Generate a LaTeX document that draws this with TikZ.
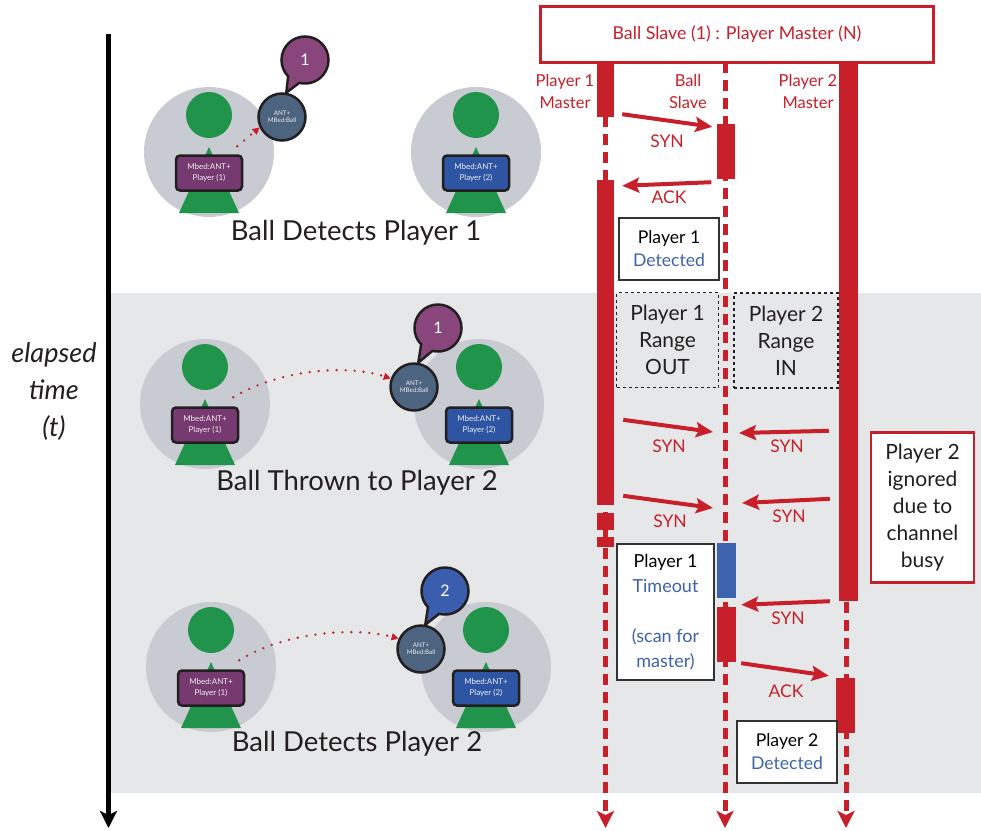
\documentclass[tikz,border=0pt]{standalone}
\usepackage{fontspec}
\setmainfont{Lato}
\usetikzlibrary{arrows.meta,calc,shapes.callouts}

\definecolor{seqred}{HTML}{C8202A}
\definecolor{seqblue}{HTML}{3D63AE}
\definecolor{bandgray}{HTML}{E6E7E8}
\definecolor{discgray}{HTML}{C9CBD3}
\definecolor{figgreen}{HTML}{1F944A}
\definecolor{chippurple}{HTML}{763A70}
\definecolor{chipblue}{HTML}{2D55A3}
\definecolor{ballslate}{HTML}{4D6480}
\definecolor{bubblepurple}{HTML}{89467D}
\definecolor{bubbleblue}{HTML}{3A5DAE}
\definecolor{outline}{HTML}{231F20}
\definecolor{boxline}{HTML}{333333}

\tikzset{
  disc/.style={circle, fill=discgray, minimum size=130pt, inner sep=0pt},
  headdisc/.style={circle, fill=figgreen, minimum size=46pt, inner sep=0pt},
  chip/.style={rounded corners=4pt, draw=outline, line width=2.5pt, minimum width=66pt,
    minimum height=35pt, inner sep=0pt, align=center, text=white!88!gray,
    font=\fontsize{8}{11}\selectfont},
  ball/.style={circle, fill=ballslate, draw=outline, line width=2.5pt, minimum size=47pt,
    inner sep=0pt, align=center, text=white!85!gray, font=\fontsize{6.3}{7.5}\selectfont},
  bubble/.style={ellipse callout, draw=outline, line width=2.5pt, minimum width=47pt,
    minimum height=47pt, inner sep=0pt, callout pointer arc=32, text=white,
    font=\fontsize{16}{16}\selectfont},
  throw/.style={seqred, line width=2.6pt, dash pattern=on 0pt off 9pt, line cap=round,
    -{Triangle[length=7pt,width=7pt,line cap=butt]}},
  caption/.style={text=outline, font=\fontsize{27.5}{28}\selectfont},
  seqtxt/.style={text=seqred, align=center, font=\fontsize{16.5}{22}\selectfont},
  msgtxt/.style={text=seqred, font=\fontsize{17.5}{18}\selectfont},
  bar/.style={fill=seqred, draw=none, inner sep=0pt, minimum width=17pt},
  msg/.style={seqred, line width=4pt, -{Stealth[length=17pt,width=15pt,inset=3pt]}},
  lifeline/.style={seqred, line width=5pt, dash pattern=on 11pt off 7pt,
    -{Stealth[length=17pt,width=17pt,inset=4pt]}},
  notebox/.style={draw=boxline, line width=1.8pt, fill=white, inner sep=0pt, align=center},
  rangebox/.style={draw=outline, line width=1.6pt, dash pattern=on 3pt off 3pt, inner sep=0pt,
    align=center, minimum width=102pt, minimum height=95pt, text=outline,
    font=\fontsize{21}{27}\selectfont}
}

% one player: grey disc, green figure and the Mbed chip on its chest
\newcommand\playerfig[5]{%
  \node[disc] (#1) at (#2,#3+37) {};
  \fill[figgreen] (#2,#3+32) -- (#2+30,#3+98) -- (#2-30,#3+98) -- cycle;
  \node[headdisc] (#1-head) at (#2,#3) {};
  \node[chip, fill=#4] (#1-chip) at (#2,#3+58) {Mbed:ANT+\\Player (#5)};
}

\begin{document}
\begin{tikzpicture}[x=1pt,y=-1pt]
\useasboundingbox (0,0) rectangle (981,830);

% grey band for the middle of the timeline
\fill[bandgray] (111,293) rectangle (981,793);

% time axis
\coordinate (ttop) at (108.5,34);
\coordinate (tend) at (108.5,828);
\draw[line width=5pt, -{Stealth[length=17pt,width=17pt,inset=4pt]}] (ttop) -- (tend);
\node[align=center, text=outline, font=\itshape\fontsize{27}{37}\selectfont] (tlabel) at (54,392)
  {elapsed\\time\\(t)};

% ---------- row 1: ball detects player 1 ----------
\playerfig{a1}{209}{115}{chippurple}{1}
\playerfig{a2}{476}{115}{chipblue}{2}
\node[ball] (r1ball) at (282,117) {ANT+\\MBed:Ball};
\node[bubble, fill=bubblepurple, callout absolute pointer={(r1ball.80)}] (r1bubble) at (305,60) {1};
\draw[throw] ($(a1-chip.north east)+(-6,-8)$) -- (r1ball.205);
\node[caption] (cap1) at (356,233) {Ball Detects Player 1};

% ---------- row 2: ball thrown to player 2 ----------
\playerfig{b1}{205}{367}{chippurple}{1}
\playerfig{b2}{479}{367}{chipblue}{2}
\node[ball] (r2ball) at (414,387) {ANT+\\MBed:Ball};
\node[bubble, fill=bubblepurple, callout absolute pointer={(r2ball.80)}] (r2bubble) at (438,328) {1};
\draw[throw] ($(b1-chip.north east)+(-6,-9)$) .. controls +(45,-27) and +(-45,-15) .. (r2ball.160);
\node[caption] (cap2) at (357,483) {Ball Thrown to Player 2};

% ---------- row 3: ball detects player 2 ----------
\playerfig{c1}{211}{630}{chippurple}{1}
\playerfig{c2}{486}{630}{chipblue}{2}
\node[ball] (r3ball) at (421,649) {ANT+\\MBed:Ball};
\node[bubble, fill=bubbleblue, callout absolute pointer={(r3ball.80)}] (r3bubble) at (445,591) {2};
\draw[throw] ($(c1-chip.north east)+(-6,-9)$) .. controls +(45,-28) and +(-45,-12) .. (r3ball.155);
\node[caption] (cap3) at (357,744) {Ball Detects Player 2};

% ---------- sequence diagram ----------
\node[draw=seqred, line width=3pt, fill=white, minimum width=393pt, minimum height=56pt,
  text=seqred, font=\fontsize{17.8}{18}\selectfont] (head) at (737,34)
  {Ball Slave (1) : Player Master (N)};

\node[seqtxt] (l1) at (565,91) {Player 1\\Master};
\node[seqtxt] (l2) at (688,91) {Ball\\Slave};
\node[seqtxt] (l3) at (808,91) {Player 2\\Master};

\coordinate (p1top) at (605.5,62);  \coordinate (p1end) at (605.5,828);
\coordinate (bstop) at (725,62);    \coordinate (bsend) at (725,828);
\coordinate (p2top) at (846,62);    \coordinate (p2end) at (846,828);
\draw[lifeline] (p1top) -- (p1end);
\draw[lifeline] (bstop) -- (bsend);
\draw[lifeline] (p2top) -- (p2end);

% activation bars
\node[bar, minimum height=55pt]  (pa) at (605.5,89.5) {};
\node[bar, minimum height=325pt] (pb) at (605.5,342.5) {};
\node[bar, minimum height=17pt]  (pc) at (605.5,521.5) {};
\node[bar, minimum height=10pt]  (pd) at (605.5,542) {};
\node[bar, minimum width=18pt, minimum height=55pt] (ba) at (725.5,151.5) {};
\node[bar, minimum width=19pt, minimum height=55pt, fill=seqblue] (bb) at (726.5,570.5) {};
\node[bar, minimum width=19pt, minimum height=55pt] (bc) at (726.5,634.5) {};
\node[bar, minimum width=19pt, minimum height=539pt] (qa) at (848.5,331.5) {};
\node[bar, minimum width=19pt, minimum height=55pt] (qb) at (845.5,705.5) {};

% messages
\draw[msg] ($(pa.south east)+(8,-3)$) -- ($(ba.north west)+(-4,3)$);
\node[msgtxt] (m1) at (667,141) {SYN};
\draw[msg] ($(ba.south west)+(-5,3)$) -- ($(pb.north east)+(8,6)$);
\node[msgtxt] (m2) at (669,197) {ACK};

\coordinate (s2a) at (713,432);
\coordinate (s2b) at (739,433);
\draw[msg] ($(pb.north east)+(9,240)$) -- (s2a);
\draw[msg] ($(qa.north west)+(-10,369)$) -- (s2b);
\node[msgtxt] (m3) at (669,446) {SYN};
\node[msgtxt] (m4) at (787,446) {SYN};

\coordinate (s3a) at (713,508);
\coordinate (s3b) at (742,503);
\draw[msg] ($(pb.north east)+(9,316)$) -- (s3a);
\draw[msg] ($(qa.north west)+(-9,437)$) -- (s3b);
\node[msgtxt] (m5) at (670,521) {SYN};
\node[msgtxt] (m6) at (789,516) {SYN};

\draw[msg] ($(qa.south west)+(-9,0)$) -- ($(bc.north east)+(5,-2)$);
\node[msgtxt] (m7) at (788,618) {SYN};
\draw[msg] ($(bc.south east)+(5,1)$) -- ($(qb.north west)+(-7,-2)$);
\node[msgtxt] (m8) at (786,691) {ACK};

% notes
\node[notebox, minimum width=100pt, minimum height=62pt, font=\fontsize{17.6}{23}\selectfont]
  (n1) at (669,249) {Player 1\\\textcolor{seqblue}{Detected}};
\node[rangebox] (n2) at (667.5,340) {Player 1\\Range\\OUT};
\node[rangebox, minimum width=104pt] (n3) at (786,340.5) {Player 2\\Range\\IN};
\node[draw=seqred, line width=2.8pt, fill=white, minimum width=103pt, minimum height=150pt,
  inner sep=0pt, align=center, text=outline, font=\fontsize{21}{27}\selectfont]
  (n4) at (922.5,507.5) {Player 2\\ignored\\due to\\channel\\busy};
\node[notebox, minimum width=97pt, minimum height=136pt, font=\fontsize{18}{25}\selectfont]
  (n5) at (665.5,612) {Player 1\\\textcolor{seqblue}{Timeout}\\[25pt]\textcolor{seqblue}{(scan for}\\\textcolor{seqblue}{master)}};
\node[notebox, minimum width=100pt, minimum height=62pt, font=\fontsize{17.6}{23}\selectfont]
  (n6) at (787,752) {Player 2\\\textcolor{seqblue}{Detected}};
\end{tikzpicture}
\end{document}
